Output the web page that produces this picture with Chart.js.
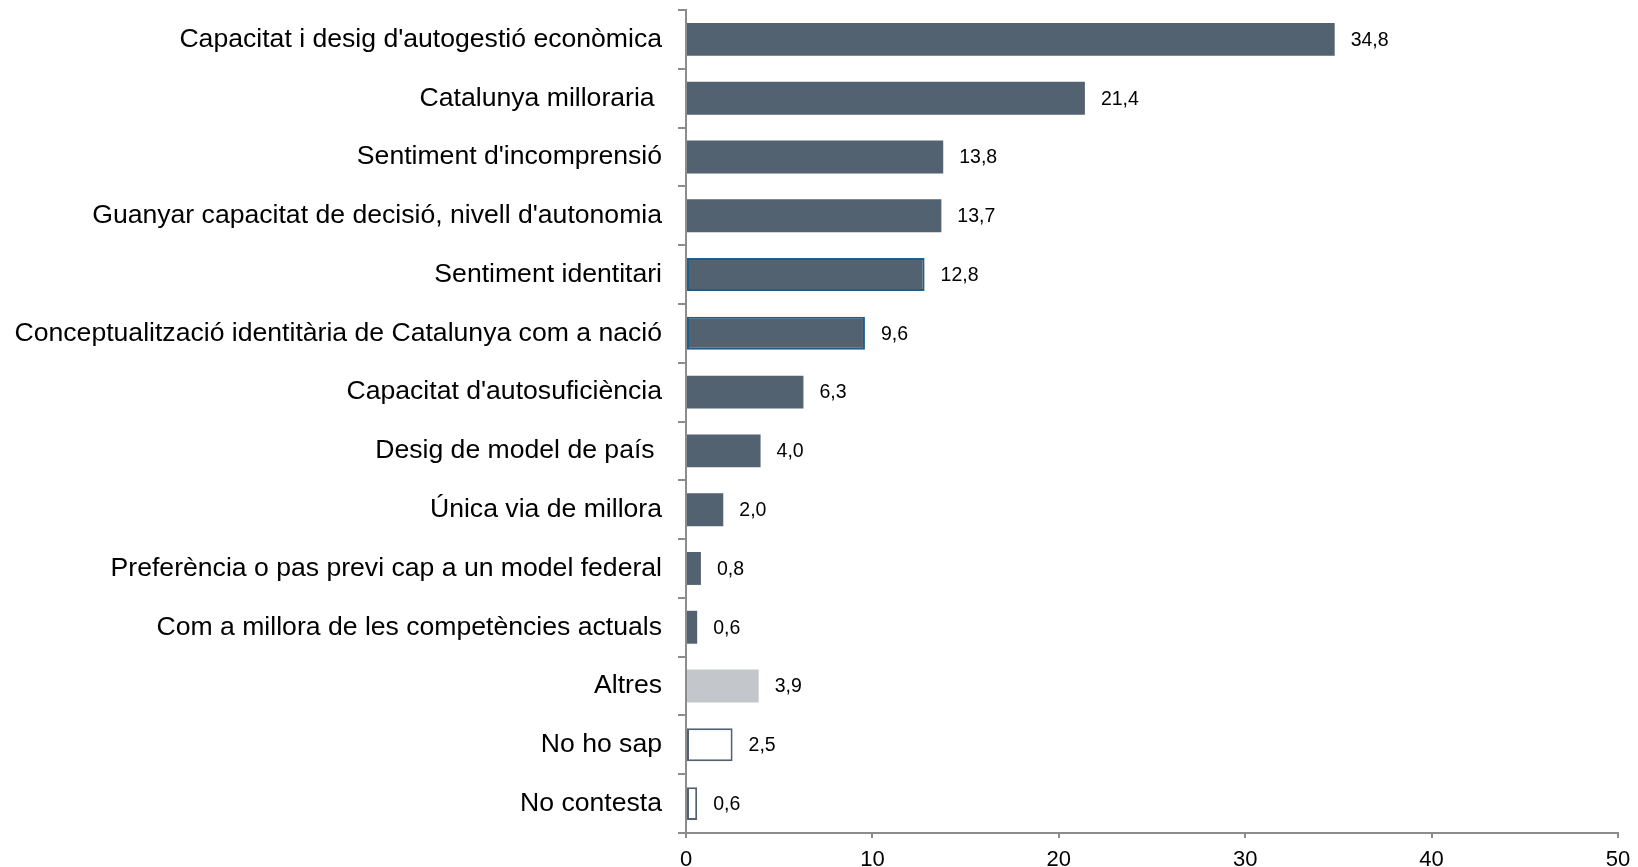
<!DOCTYPE html>
<html>
<head>
<meta charset="utf-8">
<script src="https://cdn.jsdelivr.net/npm/chart.js@4/dist/chart.umd.min.js"></script>
<style>
html,body{margin:0;padding:0;background:#fff;}
#wrap{width:1638px;height:867px;position:relative;}
</style>
</head>
<body>
<div id="wrap"><canvas id="c" width="1638" height="867"></canvas></div>
<script>
const categories = [
  "Capacitat i desig d'autogestió econòmica",
  "Catalunya milloraria ",
  "Sentiment d'incomprensió",
  "Guanyar capacitat de decisió, nivell d'autonomia",
  "Sentiment identitari",
  "Conceptualització identitària de Catalunya com a nació",
  "Capacitat d'autosuficiència",
  "Desig de model de país ",
  "Única via de millora",
  "Preferència o pas previ cap a un model federal",
  "Com a millora de les competències actuals",
  "Altres",
  "No ho sap",
  "No contesta"
];
const values = [34.8, 21.4, 13.8, 13.7, 12.8, 9.6, 6.3, 4.0, 2.0, 0.8, 0.6, 3.9, 2.5, 0.6];
const xTicks = [0, 10, 20, 30, 40, 50];

const DARK = '#536271';
const fills = values.map((v, i) => i === 11 ? '#c3c7cb' : (i >= 12 ? '#ffffff' : DARK));
const borders = values.map((v, i) => (i === 4 || i === 5) ? '#1d5f8c' : (i === 11 ? '#c3c7cb' : DARK));
const bw = values.map((v, i) => (i === 4 || i === 5 || i >= 12) ? 2 : 0);

const FONT = "'Liberation Sans', Arial, sans-serif";

const valueLabels = {
  id: 'valueLabels',
  afterDatasetsDraw(chart) {
    const ctx = chart.ctx;
    const meta = chart.getDatasetMeta(0);
    ctx.save();
    ctx.font = "19.5px " + FONT;
    ctx.fillStyle = '#000';
    ctx.textAlign = 'left';
    ctx.textBaseline = 'middle';
    meta.data.forEach((bar, i) => {
      ctx.fillText(values[i].toFixed(1).replace('.', ','), bar.x + 16, bar.y + 1);
    });
    ctx.restore();
  }
};

new Chart(document.getElementById('c'), {
  type: 'bar',
  data: {
    labels: categories,
    datasets: [{
      data: values,
      backgroundColor: fills,
      borderColor: borders,
      borderWidth: bw,
      borderSkipped: false,
      categoryPercentage: 1.0,
      barPercentage: 0.56
    }]
  },
  options: {
    indexAxis: 'y',
    responsive: false,
    animation: false,
    layout: { padding: { top: 10, right: 20, left: 0, bottom: 0 } },
    plugins: { legend: { display: false }, tooltip: { enabled: false } },
    scales: {
      x: {
        min: 0, max: 50,
        afterBuildTicks(scale) { scale.ticks = xTicks.map(v => ({ value: v })); },
        afterFit(scale) { scale.height = 34; scale.paddingLeft = 0; scale.paddingRight = 0; },
        border: { color: '#8c8c8c', width: 2 },
        grid: { drawOnChartArea: false, drawTicks: true, tickLength: 5, color: '#8c8c8c', lineWidth: 2 },
        ticks: { font: { family: FONT, size: 22 }, color: '#000', padding: 9, maxRotation: 0 }
      },
      y: {
        afterFit(scale) { scale.width = 686; scale.paddingTop = 0; scale.paddingBottom = 0; },
        border: { color: '#8c8c8c', width: 2 },
        grid: { drawOnChartArea: false, drawTicks: true, tickLength: 8, color: '#8c8c8c', lineWidth: 2, offset: true },
        ticks: { font: { family: FONT, size: 26.6 }, color: '#000', padding: 16, autoSkip: false }
      }
    }
  },
  plugins: [valueLabels]
});
</script>
</body>
</html>
